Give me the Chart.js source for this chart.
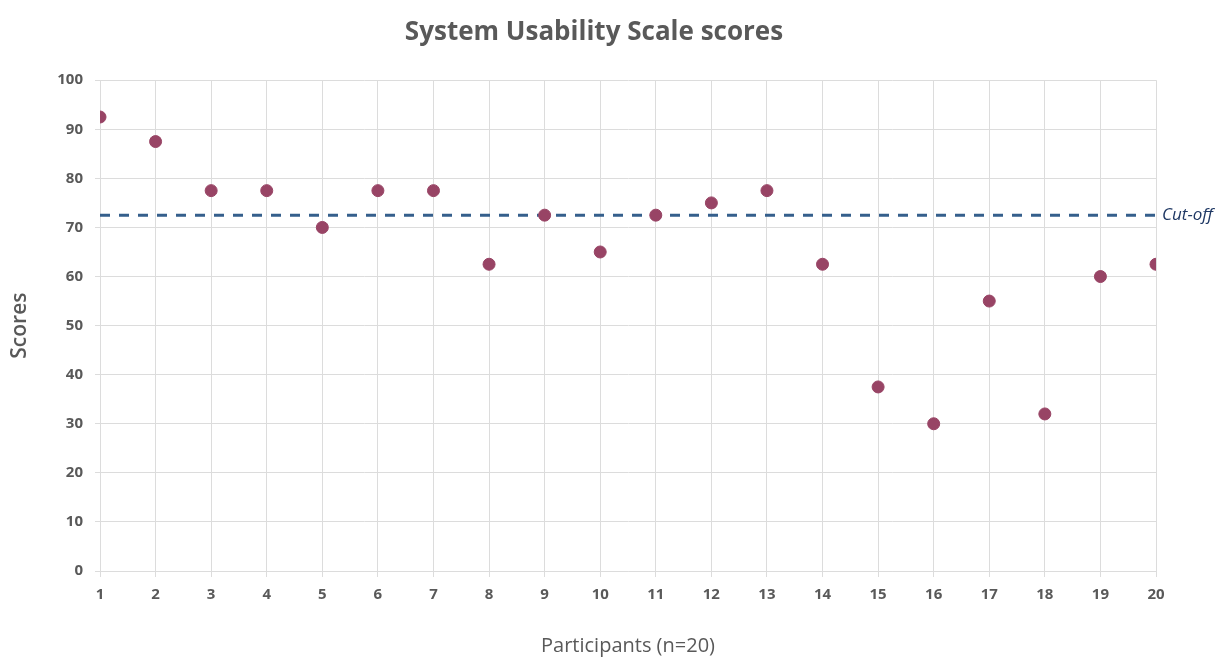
<!DOCTYPE html>
<html>
<head>
<meta charset="utf-8">
<script src="https://cdn.jsdelivr.net/npm/chart.js@4"></script>
<style>
  html, body { margin: 0; padding: 0; background: #ffffff; }
  #wrap { width: 1227px; height: 658px; }
</style>
</head>
<body>
<div id="wrap"><canvas id="susChart" width="1227" height="658"></canvas></div>
<script>
// Participantes y puntuaciones SUS
const participants = [1, 2, 3, 4, 5, 6, 7, 8, 9, 10, 11, 12, 13, 14, 15, 16, 17, 18, 19, 20];
const scores = [92.5, 87.5, 77.5, 77.5, 70, 77.5, 77.5, 62.5, 72.5, 65, 72.5, 75, 77.5, 62.5, 37.5, 30, 55, 32, 60, 62.5];

// Linea de corte
const cutOff = 72.5;
const cutOffLabel = 'Cut-off';
const cutOffRange = [1, 20];

const yTicks = { min: 0, max: 100, step: 10 };

const grey = '#595959';
const gridColor = '#dcdcdc';
const fontFamily = '"Open Sans", sans-serif';

// Plugin para escribir "Cut-off" al final de la linea
const cutOffText = {
    id: 'cutOffText',
    afterDatasetsDraw(chart) {
        const { ctx, scales } = chart;
        const x = scales.x.getPixelForValue(cutOffRange[1]) + 6;
        const y = scales.y.getPixelForValue(cutOff);
        ctx.save();
        ctx.font = 'italic 17px ' + fontFamily;
        ctx.fillStyle = '#1F3864';
        ctx.textAlign = 'left';
        ctx.textBaseline = 'middle';
        ctx.fillText(cutOffLabel, x, y);
        ctx.restore();
    }
};

const ctx = document.getElementById('susChart').getContext('2d');
const susChart = new Chart(ctx, {
    type: 'scatter',
    data: {
        datasets: [
            {
                label: 'Scores',
                data: participants.map((p, i) => ({ x: p, y: scores[i] })),
                backgroundColor: '#984465',
                borderColor: '#984465',
                pointRadius: 6,
                pointHoverRadius: 6,
                order: 1
            },
            {
                label: cutOffLabel,
                type: 'line',
                data: cutOffRange.map(x => ({ x: x, y: cutOff })),
                borderColor: '#355F8C',
                borderWidth: 3,
                borderDash: [10, 9],
                pointRadius: 0,
                fill: false,
                clip: false,
                order: 2
            }
        ]
    },
    options: {
        responsive: false,
        animation: false,
        layout: { padding: { left: 0, right: 39, top: 0, bottom: 0 } },
        plugins: {
            legend: { display: false },
            tooltip: { enabled: false },
            title: {
                display: true,
                text: 'System Usability Scale scores',
                color: grey,
                font: { family: fontFamily, size: 26, weight: 'bold' },
                padding: { top: 17, bottom: 32 }
            }
        },
        scales: {
            x: {
                type: 'linear',
                min: 1,
                max: 20,
                afterFit: (scale) => { scale.height = 87; },
                ticks: {
                    stepSize: 1,
                    color: grey,
                    padding: 9,
                    font: { family: fontFamily, size: 15, weight: 'bold' }
                },
                grid: { color: gridColor, tickLength: 6 },
                border: { color: gridColor },
                title: {
                    display: true,
                    text: 'Participants (n=20)',
                    color: grey,
                    font: { family: fontFamily, size: 20 },
                    padding: { top: 0, bottom: 0 }
                }
            },
            y: {
                min: yTicks.min,
                max: yTicks.max,
                afterFit: (scale) => { scale.width = 100; },
                ticks: {
                    stepSize: yTicks.step,
                    color: grey,
                    padding: 12,
                    font: { family: fontFamily, size: 15, weight: 'bold' }
                },
                grid: { color: gridColor, tickLength: 5 },
                border: { color: gridColor },
                title: {
                    display: true,
                    text: 'Scores',
                    color: grey,
                    font: { family: fontFamily, size: 21, weight: '600' },
                    padding: { top: 7, bottom: 7 }
                }
            },
            // eje vacio a la derecha para dejar sitio al texto "Cut-off"
            y2: {
                position: 'right',
                display: true,
                min: yTicks.min,
                max: yTicks.max,
                afterFit: (scale) => { scale.width = 32; },
                ticks: { display: false },
                grid: { display: false },
                border: { display: false }
            }
        }
    },
    plugins: [cutOffText]
});
</script>
</body>
</html>
